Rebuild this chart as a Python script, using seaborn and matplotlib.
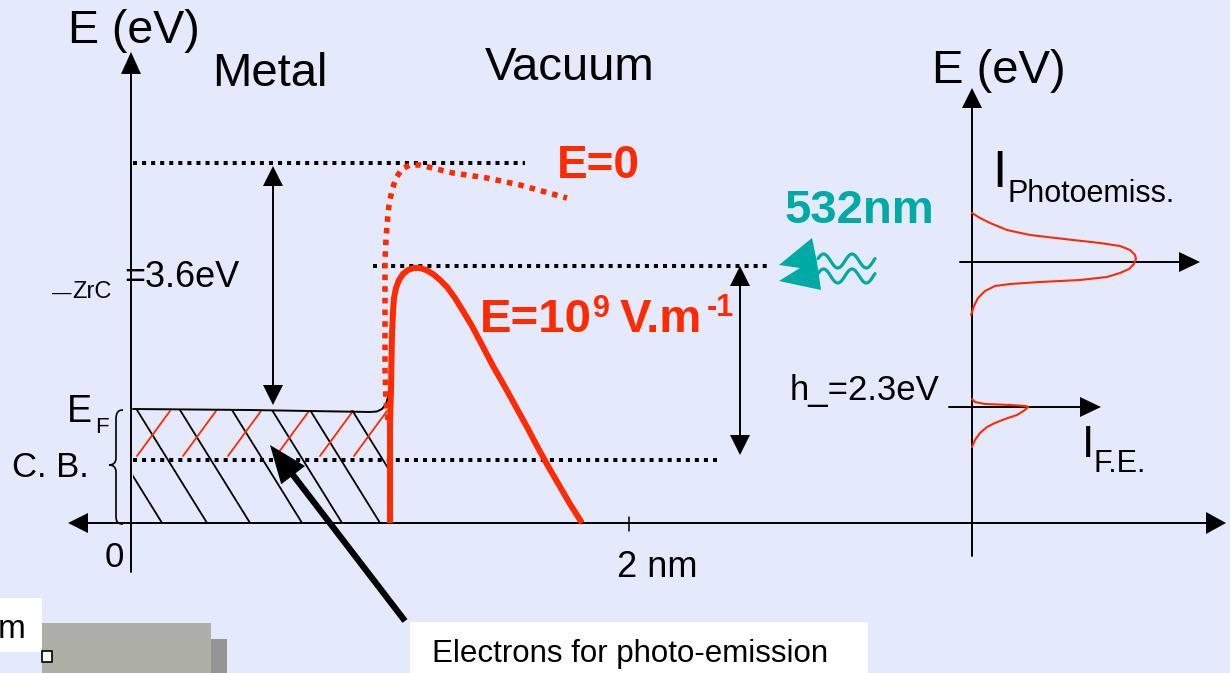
import numpy as np
import matplotlib
matplotlib.use("Agg")
import matplotlib.pyplot as plt
from matplotlib.patches import Rectangle, Polygon, PathPatch
from matplotlib.path import Path
import seaborn as sns

# ---------------- data (diagram coordinates, pixel-like units, y downward) -------------
vacuum_level_y = 163
fermi_level_y = 410
cb_level_y = 460
barrier_top_y = 266
axis_y = 523

# potential barrier with applied field E = 1e9 V/m (solid red)
field_x = [390, 390, 391, 391.5, 392, 393, 394, 396, 399, 403, 408, 414, 420, 426, 433, 440,
           447, 455, 463, 472, 482, 493, 505, 516, 527, 537, 548, 559, 570, 582]
field_y = [523, 423, 390, 360, 335, 312, 298, 288, 280, 274, 270, 268, 268, 270, 274, 280,
           287, 298, 311, 326, 345, 366, 387, 407, 427, 446, 466, 485, 504, 523]

# barrier without field E = 0 (dotted red)
zero_x = [388, 386, 385, 385, 385, 385, 386, 387, 389, 392, 396, 402, 410, 420, 453, 487, 520, 567]
zero_y = [420, 400, 370, 330, 290, 260, 240, 225, 205, 190, 178, 169, 165, 165, 173, 178, 185, 198]

# Fermi level edge
fermi_x = [133, 250, 370, 377, 382, 386, 388, 389]
fermi_y = [409, 410, 412, 411.5, 409, 404, 397, 391]

# energy distributions (right panel)
pe_x = [972, 980, 990, 1007, 1030, 1073, 1100, 1120, 1130, 1135, 1136, 1134, 1129, 1120,
        1107, 1080, 1040, 1010, 995, 985, 978, 974, 971]
pe_y = [213, 218, 223, 230, 235, 240, 243, 246, 250, 255, 259, 264, 269, 273,
        277, 280, 282, 284, 286, 291, 298, 306, 315]
fe_x = [972, 975, 985, 1010, 1026, 1028, 1025, 1017, 1005, 995, 987, 980, 975, 972]
fe_y = [399, 402, 404, 405, 406, 407, 410, 415, 419, 423, 427, 433, 440, 447]

# hatching of the conduction band
hatch_black_top_x = [92, 137, 180, 232, 272, 310, 352]
hatch_red_bottom_x = [137, 183, 228, 276, 320, 354]

RED = "#FF2A00"
TEAL = "#00AAA5"
BG = "#E4EAFC"

# ---------------- figure ----------------
sns.set_theme(style="white")
plt.rcParams["font.family"] = ["Liberation Sans", "DejaVu Sans"]

fig = plt.figure(figsize=(12.3, 6.73), dpi=100, facecolor=BG)
ax = fig.add_axes([0, 0, 1, 1])
ax.set_facecolor(BG)
ax.set_xlim(0, 1230)
ax.set_ylim(673, 0)
ax.axis("off")


def head(tip, dx, dy, L=20, W=10, color="black"):
    tip = np.array(tip, float)
    d = np.array([dx, dy], float)
    d /= np.hypot(*d)
    n = np.array([-d[1], d[0]])
    base = tip - d * L
    pts = np.array([tip, base + n * W, base - n * W])
    ax.add_patch(Polygon(pts, closed=True, color=color, lw=0, zorder=5))


def txt(x, y, s, size, **kw):
    kw.setdefault("color", "black")
    ax.text(x, y, s, fontsize=size, va="baseline", ha="left", **kw)


dot_k = dict(color="black", lw=2.9, ls=(0, (1, 1.25)), dash_capstyle="butt")

# ---- axes of the left diagram ----
ax.plot([131, 131], [572, 70], color="black", lw=1.4)
head((131, 52), 0, -1, L=22, W=10)
ax.plot([86, 1208], [axis_y, axis_y], color="black", lw=1.4)
head((68, axis_y), -1, 0, L=20, W=10)
head((1226, axis_y), 1, 0, L=20, W=11)
ax.plot([629, 629], [517, 531], color="black", lw=1.1)

# ---- levels ----
ax.plot([133, 525], [vacuum_level_y] * 2, **dot_k)
ax.plot([373, 768], [barrier_top_y] * 2, **dot_k)
ax.plot([133, 720], [cb_level_y] * 2, **dot_k)

# ---- hatch of occupied states ----
clip = Rectangle((133, fermi_level_y), 255, axis_y - fermi_level_y, transform=ax.transData)
slope = 0.62
for x0 in hatch_black_top_x:
    ln, = ax.plot([x0, x0 + slope * 120], [fermi_level_y, fermi_level_y + 120],
                  color="black", lw=1.3)
    ln.set_clip_path(clip)
for xb in hatch_red_bottom_x:
    ax.plot([xb, xb + 33], [456, 411], color=RED, lw=1.3)

sns.lineplot(x=fermi_x, y=fermi_y, sort=False, estimator=None, ax=ax,
             color="black", lw=1.4)

# ---- barriers ----
sns.lineplot(x=zero_x, y=zero_y, sort=False, estimator=None, ax=ax,
             color=RED, lw=4.0, ls=(0, (1.0, 1.1)), dash_capstyle="butt", zorder=4)
sns.lineplot(x=field_x, y=field_y, sort=False, estimator=None, ax=ax,
             color=RED, lw=4.3, zorder=4, solid_capstyle="butt", solid_joinstyle="round")

# ---- double arrows ----
ax.plot([273, 273], [180, 392], color="black", lw=1.4)
head((273, 166), 0, -1, L=20, W=10)
head((273, 405), 0, 1, L=20, W=10)
ax.plot([740, 740], [280, 442], color="black", lw=1.4)
head((740, 266), 0, -1, L=20, W=10)
head((740, 455), 0, 1, L=20, W=10)

# ---- brace ----
verts = [(123, 410), (117, 410), (116, 414), (116, 420),
         (116, 458),
         (116, 463), (113, 465), (109, 465),
         (113, 465), (116, 467), (116, 472),
         (116, 516),
         (116, 521), (117, 524), (123, 524)]
codes = [Path.MOVETO, Path.CURVE4, Path.CURVE4, Path.CURVE4,
         Path.LINETO,
         Path.CURVE4, Path.CURVE4, Path.CURVE4,
         Path.CURVE4, Path.CURVE4, Path.CURVE4,
         Path.LINETO,
         Path.CURVE4, Path.CURVE4, Path.CURVE4]
ax.add_patch(PathPatch(Path(verts, codes), fill=False, lw=1.2, edgecolor="black"))

# ---- thick pointer arrow ----
tip = np.array([270.0, 445.0])
tail = np.array([405.0, 621.0])
d = (tip - tail) / np.hypot(*(tip - tail))
ax.plot([tail[0], tip[0] - d[0] * 30], [tail[1], tip[1] - d[1] * 30],
        color="black", lw=4.5, solid_capstyle="butt")
head(tuple(tip), d[0], d[1], L=38, W=15)

# ---- right panel ----
ax.plot([972, 972], [556, 105], color="black", lw=1.4)
head((972, 88), 0, -1, L=20, W=10)
ax.plot([960, 1182], [262, 262], color="black", lw=1.4)
head((1200, 262), 1, 0, L=21, W=10)
ax.plot([949, 1083], [407, 407], color="black", lw=1.4)
head((1101, 407), 1, 0, L=21, W=10)
sns.lineplot(x=pe_x, y=pe_y, sort=False, estimator=None, ax=ax, color=RED, lw=1.5,
             solid_joinstyle="round")
sns.lineplot(x=fe_x, y=fe_y, sort=False, estimator=None, ax=ax, color=RED, lw=1.5,
             solid_joinstyle="round")

# ---- laser symbol ----
ax.add_patch(Polygon([(812, 238), (779, 265), (800, 268), (779, 281), (821, 290), (817, 262)],
                     closed=True, color=TEAL, lw=0))
wx = np.linspace(818, 875, 80)
for yc in (261, 276):
    ax.plot(wx, yc - 7 * np.sin((wx - 818) / 28.5 * 2 * np.pi + 0.35), color=TEAL, lw=2.3)

# ---- texts ----
txt(68, 43, "E (eV)", 33.5)
txt(212, 86, "Metal", 34)
txt(485, 80, "Vacuum", 34)
txt(932, 83, "E (eV)", 34)
txt(557, 178, "E=0", 33, color=RED, fontweight="bold")
txt(785, 223, "532nm", 34, color=TEAL, fontweight="bold")
txt(480, 332, "E=10", 34, color=RED, fontweight="bold")
txt(593, 317, "9", 22, color=RED, fontweight="bold")
txt(620, 332, "V.m", 34, color=RED, fontweight="bold")
txt(707, 316, "-1", 22, color=RED, fontweight="bold")
txt(52, 298, "\u2014", 14)
txt(72, 298, "ZrC", 17)
txt(124, 287, "=3.6eV", 26)
txt(67, 422, "E", 27)
txt(95, 433, "F", 16)
txt(12, 477, "C. B.", 25)
txt(105, 567, "0", 25)
txt(617, 577, "2 nm", 26)
txt(790, 400, "h_=2.3eV", 25)
txt(992, 187, "I", 37)
txt(1008, 202, "Photoemiss.", 22)
txt(1082, 457, "I", 32)
txt(1093, 472, "F.E.", 22)

# ---- bottom boxes ----
ax.add_patch(Rectangle((410, 622), 458, 60, facecolor="white", edgecolor="none", zorder=6))
txt(432, 662, "Electrons for photo-emission", 22.5, zorder=7)
ax.add_patch(Rectangle((42, 623), 169, 60, facecolor="#AEB0A8", edgecolor="none", zorder=6))
ax.add_patch(Rectangle((211, 639), 16, 40, facecolor="#959595", edgecolor="none", zorder=6))
ax.add_patch(Rectangle((-5, 598), 47, 54, facecolor="white", edgecolor="none", zorder=7))
ax.add_patch(Rectangle((42, 651), 10, 11, facecolor="white", edgecolor="black", lw=1.2, zorder=7))
txt(-2, 638, "m", 24, zorder=8)

fig.savefig("out.png", dpi=100, facecolor=BG)
